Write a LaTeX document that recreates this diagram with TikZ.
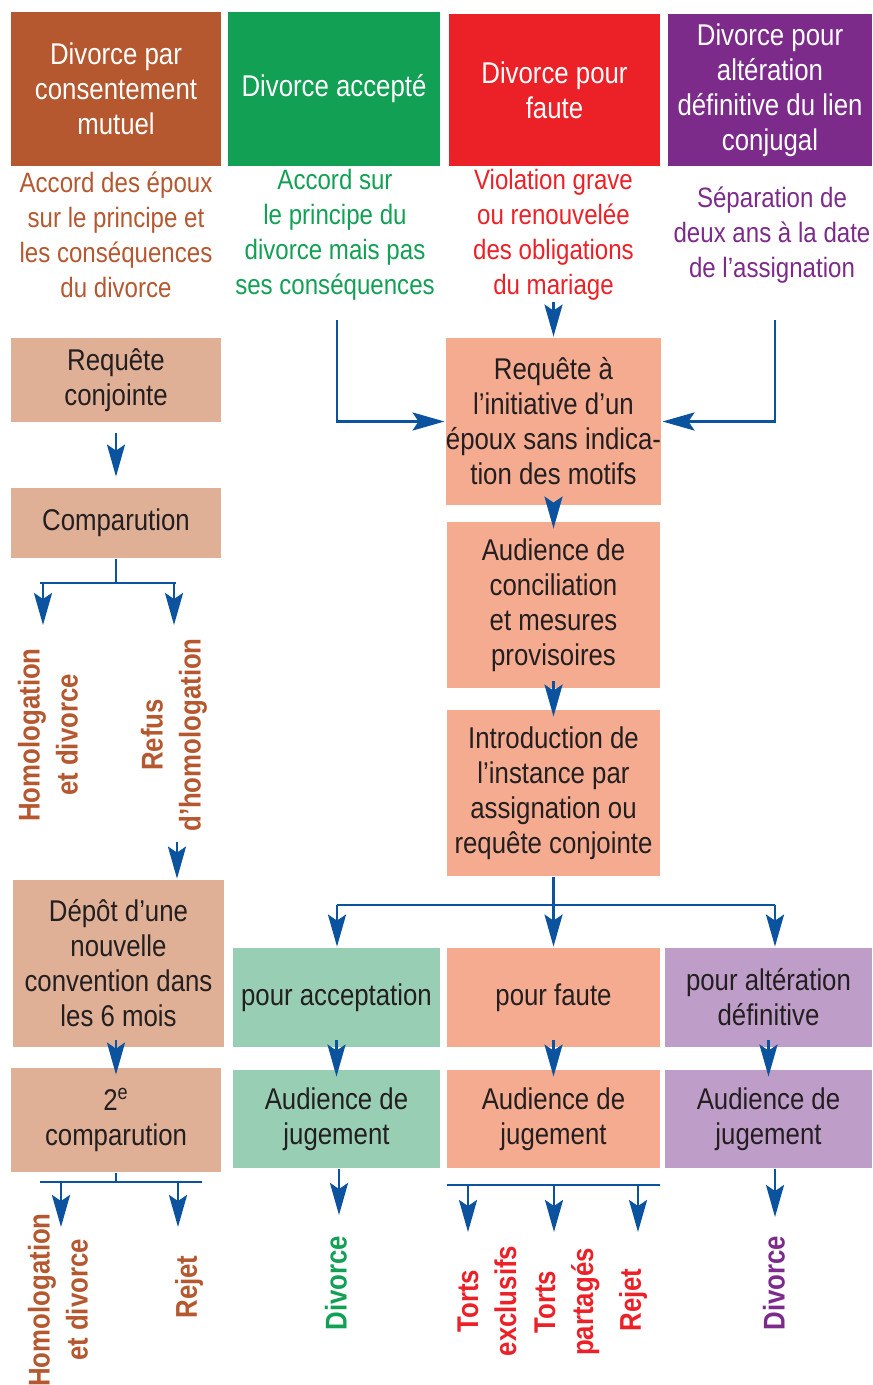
\documentclass[tikz,border=0pt]{standalone}
\usepackage{fontspec}
\setmainfont{Liberation Sans}[FakeStretch=0.86]
\usetikzlibrary{arrows.meta}
\definecolor{cBrun}{HTML}{B5572F}
\definecolor{cVert}{HTML}{12A055}
\definecolor{cRouge}{HTML}{EC2027}
\definecolor{cViolet}{HTML}{7D2B8B}
\definecolor{cTan}{HTML}{E0B096}
\definecolor{cSaumon}{HTML}{F5AB90}
\definecolor{cVertClair}{HTML}{98CEB3}
\definecolor{cVioletClair}{HTML}{BF9DC9}
\definecolor{cBleu}{HTML}{0B529F}
\definecolor{cTexte}{HTML}{231F20}

\begin{document}
\begin{tikzpicture}[x=0.5pt, y=-0.5pt, cBleu, line width=1.4pt,
	arrows={-Stealth[length=16pt,width=9pt,inset=3pt]},
	every node/.style={font=\fontsize{15}{17.5}\selectfont, align=center, inner sep=0pt},
	hdr/.style n args={3}{fill=#3, minimum width=#1*0.5pt, minimum height=#2*0.5pt, text=white},
	cell/.style n args={3}{fill=#3, minimum width=#1*0.5pt, minimum height=#2*0.5pt, text=cTexte},
	desc/.style={text=#1, font=\fontsize{14}{17.5}\selectfont},
	issue/.style={rotate=90, text=#1, font=\bfseries\fontsize{15}{19}\selectfont},
	chevauche/.style={shorten <=-4pt, shorten >=-4pt}]
	\useasboundingbox (0,0) rectangle (872,1385);
	% types de divorce
	\node[hdr={210}{154}{cBrun}] (H1) at (116,89) {Divorce par\\consentement\\mutuel};
	\node[hdr={212}{154}{cVert}] (H2) at (334,89) {Divorce accepté};
	\node[hdr={211}{152}{cRouge}] (H3) at (554.5,90) {Divorce pour\\faute};
	\node[hdr={204}{152}{cViolet}] (H4) at (770,90) {Divorce pour\\altération\\définitive du lien\\conjugal};
	\node[desc=cBrun] (D1) at (116,235) {Accord des époux\\sur le principe et\\les conséquences\\du divorce};
	\node[desc=cVert] (D2) at (335,235) {Accord sur\\le principe du\\divorce mais pas\\ses conséquences};
	\node[desc=cRouge] (D3) at (553.5,235) {Violation grave\\ou renouvelée\\des obligations\\du mariage};
	\node[desc=cViolet] (D4) at (772,235) {Séparation de\\deux ans à la date\\de l’assignation};
	% colonne de gauche
	\node[cell={210}{84}{cTan}] (B1) at (116,380) {Requête\\conjointe};
	\node[cell={210}{70}{cTan}] (B2) at (116,523) {Comparution};
	\node[cell={211}{167}{cTan}] (B3) at (118.5,963.5) {Dépôt d’une\\nouvelle\\convention dans\\les 6 mois};
	\node[cell={210}{104}{cTan}] (B4) at (116,1120) {2\textsuperscript{e}\\comparution};
	% procédure commune
	\node[cell={213}{167}{cSaumon}] (M1) at (553.5,421.5) {Requête à\\l’initiative d’un\\époux sans indica-\\tion des motifs};
	\node[cell={213}{166}{cSaumon}] (M2) at (553.5,605) {Audience de\\conciliation\\et mesures\\provisoires};
	\node[cell={213}{166}{cSaumon}] (M3) at (553.5,793) {Introduction de\\l’instance par\\assignation ou\\requête conjointe};
	\node[cell={207}{99}{cVertClair}] (A1) at (336.5,997.5) {pour acceptation};
	\node[cell={207}{98}{cVertClair}] (A2) at (336.5,1119) {Audience de\\jugement};
	\node[cell={213}{99}{cSaumon}] (F1) at (553.5,997.5) {pour faute};
	\node[cell={213}{98}{cSaumon}] (F2) at (553.5,1119) {Audience de\\jugement};
	\node[cell={207}{99}{cVioletClair}] (P1) at (768.5,997.5) {pour altération\\définitive};
	\node[cell={207}{98}{cVioletClair}] (P2) at (768.5,1119) {Audience de\\jugement};
	% issues
	\node[issue=cBrun] (O1) at (48,735) {Homologation\\et divorce};
	\node[issue=cBrun] (O2) at (174,735) {Refus\\d’homologation};
	\node[issue=cBrun] (O3) at (58,1300) {Homologation\\et divorce};
	\node[issue=cBrun] (O4) at (189,1287) {Rejet};
	\node[issue=cVert] (O5) at (336,1283) {Divorce};
	\node[issue=cRouge] (O6) at (487,1301) {Torts\\exclusifs};
	\node[issue=cRouge] (O7) at (567,1302) {Torts\\partagés};
	\node[issue=cRouge] (O8) at (633,1300) {Rejet};
	\node[issue=cViolet] (O9) at (774,1283) {Divorce};
	% points de passage
	\coordinate (G0) at (337,320);
	\coordinate (V0) at (775,320);
	\coordinate (C1) at (116,583);
	\coordinate (C1g) at (40,583);
	\coordinate (C1d) at (176,583);
	\coordinate (T1) at (43,625);
	\coordinate (T2) at (174,625);
	\coordinate (R0) at (177,842);
	\coordinate (C2) at (116,1182);
	\coordinate (C2g) at (40,1182);
	\coordinate (C2d) at (202,1182);
	\coordinate (T3) at (61,1227);
	\coordinate (T4) at (178,1227);
	\coordinate (C3) at (553.5,905);
	\coordinate (C3g) at (337,905);
	\coordinate (C3d) at (775,905);
	\coordinate (T5) at (339,1215);
	\coordinate (C4g) at (447,1185);
	\coordinate (C4d) at (660,1185);
	\coordinate (T6) at (468,1232);
	\coordinate (T7) at (554,1232);
	\coordinate (T8) at (638,1232);
	\coordinate (T9) at (775,1217);
	% fleches
	\draw (D3) to (M1);
	\draw (G0) |- (M1);
	\draw (V0) |- (M1);
	\draw[chevauche] (M1) to (M2);
	\draw[chevauche] (M2) to (M3);
	\draw[-] (M3) to (C3);
	\draw[-] (C3g) to (C3d);
	\draw (C3g) to (C3g |- A1.north);
	\draw (C3) to (F1);
	\draw (C3d) to (C3d |- P1.north);
	\draw[chevauche] (A1) to (A2);
	\draw[chevauche] (F1) to (F2);
	\draw[chevauche] (P1) to (P2);
	\draw (A2.south -| T5) to (T5);
	\draw[-] (C4g) to (C4d);
	\draw (T6 |- C4g) to (T6);
	\draw (T7 |- C4g) to (T7);
	\draw (T8 |- C4g) to (T8);
	\draw (P2.south -| T9) to (T9);
	\draw[shorten <=5pt, shorten >=5pt] (B1) to (B2);
	\draw[-] (B2) to (C1);
	\draw[-] (C1g) to (C1d);
	\draw (T1 |- C1) to (T1);
	\draw (T2 |- C1) to (T2);
	\draw (R0) to (R0 |- B3.north);
	\draw[chevauche] (B3.south -| B4) to (B4);
	\draw[-] (B4) to (C2);
	\draw[-] (C2g) to (C2d);
	\draw (T3 |- C2) to (T3);
	\draw (T4 |- C2) to (T4);
\end{tikzpicture}
\end{document}
